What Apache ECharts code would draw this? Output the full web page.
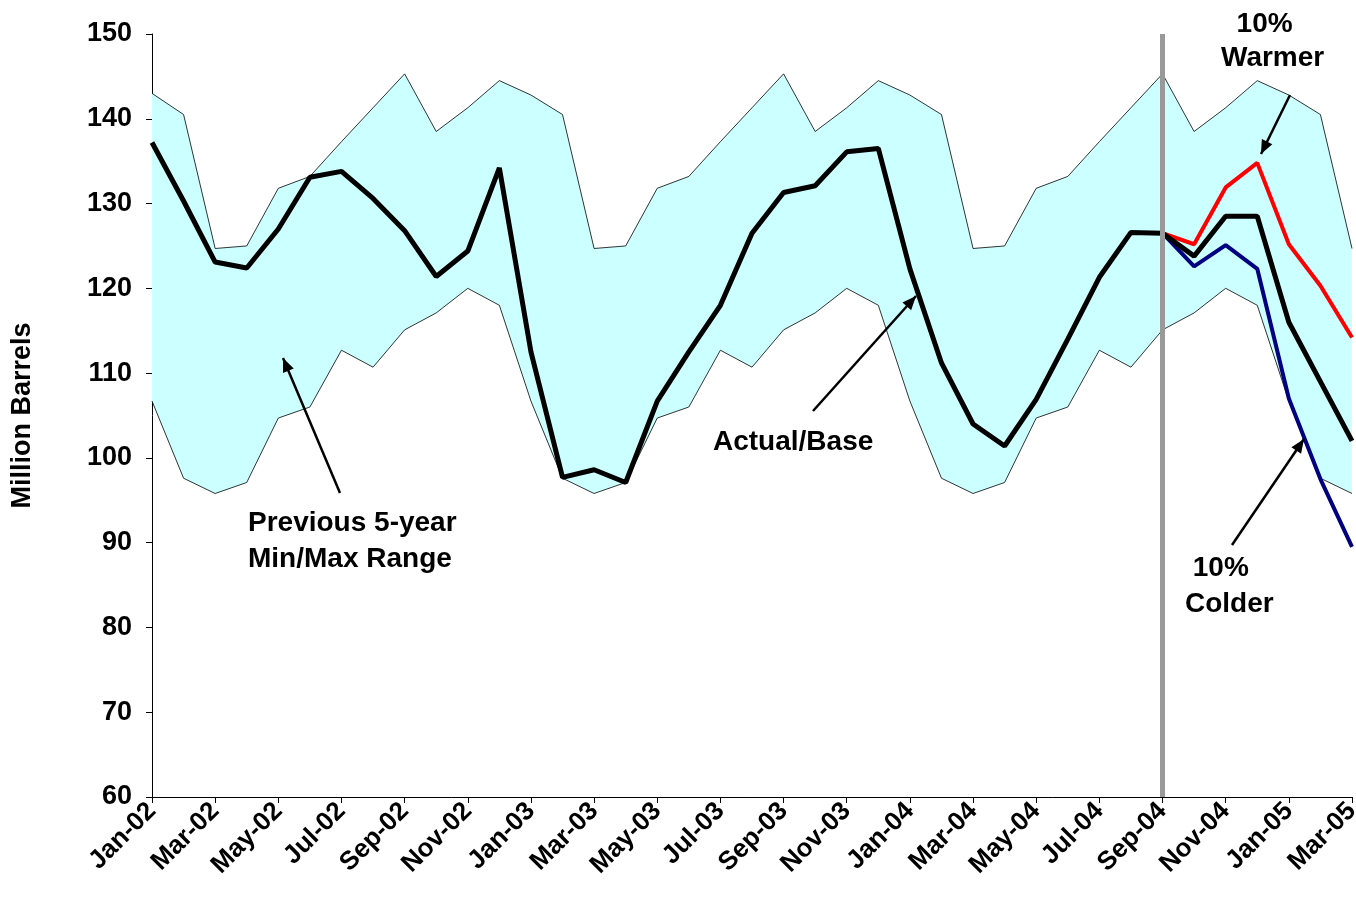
<!DOCTYPE html>
<html>
<head>
<meta charset="UTF-8">
<title>Stocks</title>
<script src="https://cdn.jsdelivr.net/npm/echarts@6/dist/echarts.min.js"></script>
<style>html,body{margin:0;background:#fff}#c{width:1356px;height:913px}</style>
</head>
<body>
<div id="c"></div>
<script>
var months = ['Jan','Feb','Mar','Apr','May','Jun','Jul','Aug','Sep','Oct','Nov','Dec'];
var categories = [];
['02','03','04','05'].forEach(function (y) {
  months.forEach(function (m) { if (categories.length < 39) categories.push(m + '-' + y); });
});
var maxRange = [143,140.5,124.7,125,131.8,133.2,137.3,141.3,145.3,138.5,141.3,144.5,
  142.8,140.5,124.7,125,131.8,133.2,137.3,141.3,145.3,138.5,141.3,144.5,
  142.8,140.5,124.7,125,131.8,133.2,137.3,141.3,145.3,138.5,141.3,144.5,
  142.8,140.5,124.7];
var minRange = [106.7,97.6,95.8,97.1,104.7,106,112.7,110.7,115.1,117.1,120,118,
  106.7,97.6,95.8,97.1,104.7,106,112.7,110.7,115.1,117.1,120,118,
  106.7,97.6,95.8,97.1,104.7,106,112.7,110.7,115.1,117.1,120,118,
  106.7,97.6,95.8];
var actual = [137.2,130.3,123.1,122.4,127,133.1,133.8,130.6,126.8,121.4,124.4,134.2,
  112.5,97.7,98.6,97.1,106.7,112.5,118,126.5,131.3,132.1,136.1,136.5,
  122.3,111.2,104,101.4,106.9,114,121.3,126.6,126.5,123.8,128.5,128.5,
  116,109,102];
var warmer = [126.5,125.2,131.9,134.8,125.2,120.3,114.2];
var colder = [126.5,122.6,125.1,122.3,107,97.5,89.5];
var forecastStart = 32;

function pad(arr) {
  var out = [];
  for (var i = 0; i < forecastStart; i++) out.push('-');
  return out.concat(arr);
}
var diff = maxRange.map(function (v, i) { return +(v - minRange[i]).toFixed(2); });

var chart = echarts.init(document.getElementById('c'));
var FONT = 'Liberation Sans, Arial';
var txt = { fontFamily: FONT, fontWeight: 'bold', fontSize: 28, fill: '#000' };
function arrow(x1, y1, x2, y2) {
  var a = Math.atan2(y2 - y1, x2 - x1), L = 15, w = 0.4;
  return [
    { type: 'line', z: 100, shape: { x1: x1, y1: y1, x2: x2, y2: y2 }, style: { stroke: '#000', lineWidth: 2.5 } },
    { type: 'polygon', z: 100, shape: { points: [[x2, y2],
      [x2 - L * Math.cos(a - w), y2 - L * Math.sin(a - w)],
      [x2 - L * Math.cos(a + w), y2 - L * Math.sin(a + w)]] }, style: { fill: '#000' } }
  ];
}
var graphics = [
  { type: 'text', z: 100, left: 248, top: 505, style: Object.assign({ text: 'Previous 5-year\nMin/Max Range', lineHeight: 36 }, txt) },
  { type: 'text', z: 100, left: 713, top: 428, style: Object.assign({ text: 'Actual/Base' }, txt) },
  { type: 'text', z: 100, left: 1221, top: 7, style: Object.assign({ text: '  10%\nWarmer', lineHeight: 34, align: 'center' }, txt) },
  { type: 'text', z: 100, left: 1185, top: 550, style: Object.assign({ text: ' 10%\nColder', lineHeight: 36 }, txt) }
].concat(arrow(340, 493, 283, 358), arrow(813, 411, 916, 296), arrow(1290, 95, 1261, 154), arrow(1232, 545, 1304, 439));

chart.setOption({
  animation: false,
  grid: { left: 152, right: 4, top: 34, bottom: 116, outerBoundsMode: 'none' },
  xAxis: {
    type: 'category', data: categories, boundaryGap: false,
    axisLine: { lineStyle: { color: '#000', width: 1 } },
    axisTick: { interval: 1, length: 6, lineStyle: { color: '#000' } },
    axisLabel: { interval: 1, rotate: 45, color: '#000', fontWeight: 'bold', fontSize: 26, fontFamily: FONT, margin: 10 }
  },
  yAxis: {
    type: 'value', min: 60, max: 150, interval: 10,
    name: 'Million Barrels', nameLocation: 'middle', nameGap: 116,
    nameTextStyle: { color: '#000', fontWeight: 'bold', fontSize: 27, fontFamily: FONT },
    axisLine: { show: true, lineStyle: { color: '#000' } },
    axisTick: { show: true, length: 6, lineStyle: { color: '#000' } },
    splitLine: { show: false },
    axisLabel: { color: '#000', fontWeight: 'bold', fontSize: 27, fontFamily: FONT, margin: 20 }
  },
  graphic: graphics,
  series: [
    { type: 'line', data: minRange, stack: 'band', symbol: 'none', lineStyle: { opacity: 0 }, silent: true },
    { type: 'line', data: diff, stack: 'band', symbol: 'none', lineStyle: { opacity: 0 }, areaStyle: { color: '#ccffff', opacity: 1 }, silent: true },
    { type: 'line', data: maxRange, symbol: 'none', lineStyle: { color: '#000', width: 0.8 } },
    { type: 'line', data: minRange, symbol: 'none', lineStyle: { color: '#000', width: 0.8 },
      markLine: { symbol: 'none', silent: true, label: { show: false }, lineStyle: { color: '#999', width: 5, type: 'solid' },
        data: [{ xAxis: forecastStart }] } },
    { type: 'line', data: pad(warmer), symbol: 'none', lineStyle: { color: '#ff0000', width: 4 } },
    { type: 'line', data: pad(colder), symbol: 'none', lineStyle: { color: '#000080', width: 4 } },
    { type: 'line', data: actual, symbol: 'none', lineStyle: { color: '#000', width: 5 } }
  ]
});
</script>
</body>
</html>
